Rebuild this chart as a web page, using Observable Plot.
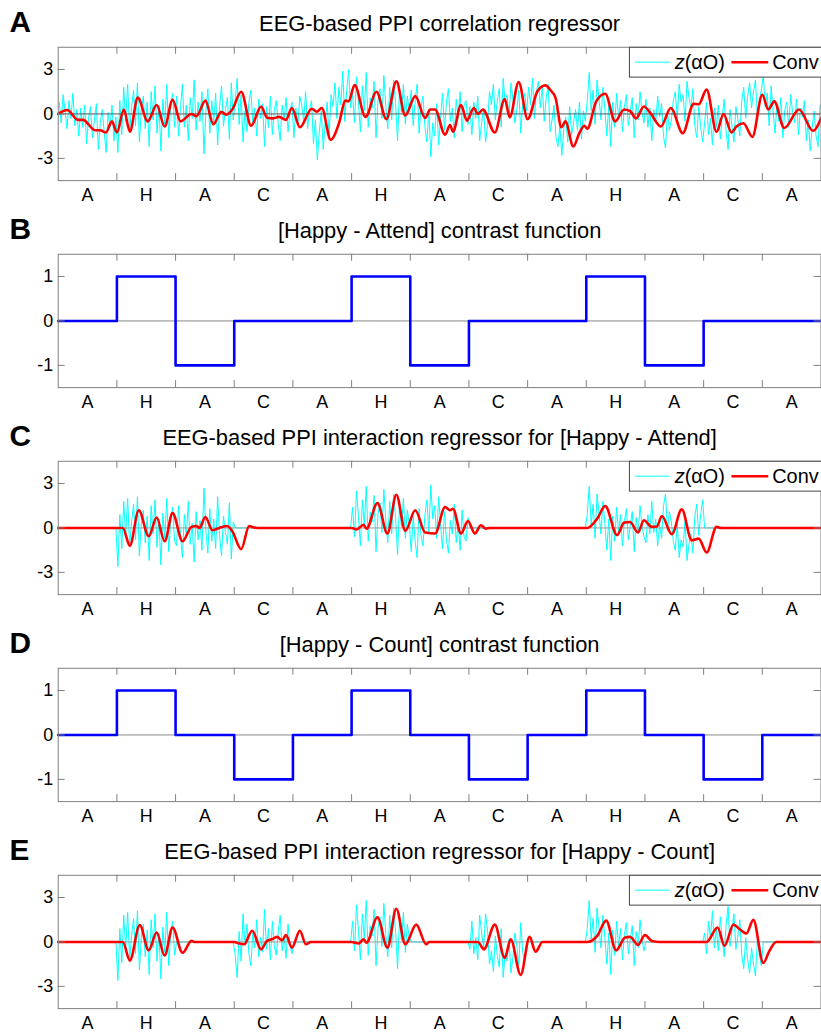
<!DOCTYPE html>
<html><head><meta charset="utf-8">
<script src="https://cdn.jsdelivr.net/npm/d3@7"></script>
<script src="https://cdn.jsdelivr.net/npm/@observablehq/plot@0.6"></script>
<style>
body{margin:0;background:#fff;overflow:hidden;}
#fig{width:821px;height:1036px;overflow:hidden;position:relative;background:#fff;}
#fig svg{display:block;overflow:visible;}
</style></head><body><div id="fig"></div>
<script>
// ---------- data ----------
const blockLabels = ["A","H","A","C","A","H","A","C","A","H","A","C","A"];
const blockLen = 59;            // time units per block
const samplesPerBlock = 30;     // z(alphaO) samples per block
const contrastHappyAttend = [0,1,-1,0,0,1,-1,0,0,1,-1,0,0];
const contrastHappyCount  = [0,1,0,-1,0,1,0,-1,0,1,0,-1,0];
const yTicksEEG = ["3","0","-3"];
const yTicksContrast = ["1","0","-1"];

// z(alphaO): EEG alpha power time course
const zAlphaO = [
  0.8,-0.6,1.3,0.2,-1.0,0.9,-0.3,1.4,-0.8,0.3,-1.5,0.4,-0.9,0.6,-2.0,-0.3,0.5,-1.6,-0.4,0.7,-2.4,-0.6,0.3,-1.2,-2.6,0.1,-0.9,0.6,-1.8,-0.2,
  -2.6,0.9,-1.4,1.8,-0.5,2.0,-1.2,0.4,1.6,-0.8,2.1,-1.9,0.3,1.2,-1.0,0.8,-2.2,1.5,-0.4,1.9,-1.3,0.6,-2.5,1.0,-0.7,2.0,-1.6,0.5,1.4,-0.9,
  1.2,-1.5,0.4,2.0,-0.9,0.6,-1.8,1.1,-0.3,2.3,-1.1,0.8,-0.5,1.5,-2.7,0.2,1.7,-1.3,0.9,-0.6,1.4,-2.1,0.5,1.9,-0.8,0.3,1.1,-1.7,2.1,-0.4,
  0.9,2.4,-0.7,1.3,-1.9,0.2,-1.2,0.8,1.6,-0.6,0.4,-1.5,1.0,-0.3,0.7,-2.2,0.5,-0.9,1.2,-1.4,0.3,0.9,-0.7,-1.8,0.6,-0.4,1.1,-1.2,0.2,0.8,
  -1.6,0.4,-0.8,1.2,0.6,-0.5,1.5,-1.0,0.3,0.9,-2.0,-0.4,-3.1,-1.2,0.2,-2.4,-0.6,0.8,-1.5,1.3,0.5,2.1,-0.3,1.8,0.6,2.9,-0.5,1.6,3.0,0.4,
  1.4,-0.6,2.5,0.8,-1.2,1.9,0.2,2.8,-0.9,1.1,0.4,2.2,-1.6,0.9,1.7,-0.3,2.6,0.5,-1.0,1.8,-0.4,2.3,0.7,-1.8,1.5,0.1,2.0,-0.7,1.2,0.3,
  1.6,-0.8,0.9,2.0,-1.3,0.5,1.2,-0.9,-1.9,0.3,-2.9,-0.6,-1.5,0.7,-2.1,-0.2,1.4,-1.1,0.8,1.7,-0.5,0.4,-1.6,1.0,-0.3,1.5,-1.2,0.6,0.9,-0.7,
  0.5,-1.4,0.8,-0.3,1.2,-1.8,-0.6,0.4,-1.9,-0.8,1.5,0.6,2.0,-0.4,0.9,1.7,-0.9,2.4,0.8,1.3,-0.2,2.1,1.0,-0.6,0.3,1.6,-1.3,0.7,1.4,0.2,
  1.8,0.6,2.4,-0.3,1.5,2.2,0.4,1.9,-0.5,1.1,2.0,-1.2,-0.4,0.6,-1.6,-2.2,-0.8,-2.8,-1.0,-0.2,-1.9,0.5,-1.4,-0.6,0.3,-1.1,0.8,-1.7,0.2,-0.5,
  0.9,2.8,0.2,1.6,-0.7,2.3,1.0,-0.4,1.8,0.3,-1.5,0.6,-2.2,0.8,-0.9,1.4,-0.3,0.9,-1.2,0.5,1.3,-0.8,0.2,1.1,-1.6,0.7,-0.4,1.5,0.1,-0.6,
  1.0,-0.9,0.4,-1.8,0.3,-0.6,1.2,-0.2,0.7,-1.5,-2.3,0.2,-1.1,-0.4,0.9,1.5,-0.3,2.0,0.8,1.3,-0.5,2.2,1.1,0.4,1.7,-0.8,-1.6,0.5,-0.9,-1.9,
  -0.6,0.8,-1.4,-0.3,-2.1,0.4,-0.9,0.6,-1.7,-0.2,1.0,-1.2,-2.4,0.3,-0.8,-1.9,0.5,-0.4,-1.5,0.9,1.8,-0.3,1.2,2.1,0.4,1.5,2.3,-0.2,0.9,1.6,
  2.6,0.5,1.4,-0.8,1.9,0.2,-1.3,0.7,-0.5,1.1,-1.6,0.3,0.8,-0.9,1.3,0.1,-0.6,1.0,-1.4,0.4,-0.2,0.9,-1.8,-0.4,-2.5,-0.9,0.2,-1.5,-2.2,0.6
];

// HRF-convolved regressors (knots at turning points)
const convA_t = [0,9,20,25,37,42,48,54,59,66,72,80,90,99,107,115,123,134,139,148,156,164,169,175,184,194,204,210,216,222,229,235,243,255,260,265,274,282,289,292,298,309,320,330,340,349,359,369,374,379,389,394,397,405,411,418,422,427,439,449,454,463,472,482,490,495,500,506,510,518,524,529,532,541,550,560,569,575,581,589,595,606,616,628,639,644,652,662,669,677,682,689,698,708,714,720,730,745,759,767];
const convA_v = [0,0.27,-0.4,-0.4,-1.1,-1.1,-1.25,-0.5,-1.25,0.3,-1.2,1.1,-0.5,0.6,-0.85,0.95,-0.5,0,-0.15,0.9,-0.7,0.15,-0.05,0.3,1.5,-0.8,0.5,-0.25,-0.3,-0.2,-0.4,0.4,-0.9,0.35,0.15,0.4,-1.75,-0.7,0.9,0.85,1.95,-0.2,1.5,-0.35,2.2,-0.1,1.2,-0.27,0.3,0.3,-1.4,-0.75,-1.2,0.6,-0.45,0.4,0,0.3,-1.25,1.0,-0.23,2.15,-0.35,1.55,1.93,1.6,1.1,-0.9,-0.5,-2.2,-1.3,-0.8,-1.0,0.85,1.36,-0.5,0.3,0.2,-0.3,0.5,0.1,-0.85,0.4,-1.3,0.68,0.65,1.64,-1.2,0,-1.25,-0.85,-0.63,-1.55,1.3,0.3,0.85,-0.95,0.3,-1.14,-0.3];

const convC_t = [0,65,72,81,91,99,107,115,125,134,139,142,148,155,162,170,175,184,192,195,200,295,300,307,310,321,331,340,349,359,369,379,389,394,397,405,412,419,425,430,434,532,542,550,562,569,575,583,589,597,602,607,617,627,637,644,652,662,667,767];
const convC_v = [0,0,-1.2,1.19,-0.56,0.7,-0.9,1.0,-0.9,0.07,0.13,0,0.74,-0.16,0,0.13,-0.22,-1.43,0.13,0.07,0,0,-0.1,0.22,-0.05,1.68,-0.38,2.24,-0.2,1.19,-0.31,-0.38,1.41,1.19,1.3,-0.38,0.47,-0.38,0.18,-0.05,0,0,0.63,1.48,-0.49,0.36,0.4,-0.31,0.52,0.07,0.1,0.81,-0.43,1.26,-0.83,-0.72,-1.66,0.07,0,0];

const convE_t = [0,65,72,82,91,99,107,115,125,134,137,177,182,187,195,204,210,215,220,225,229,235,243,249,254,295,302,307,310,321,331,340,349,360,370,373,422,428,439,449,455,465,474,480,487,532,542,551,561,570,575,583,590,597,605,652,663,670,679,685,692,699,709,715,722,767];
const convE_v = [0,0,-1.26,1.14,-0.57,0.64,-0.92,0.98,-0.73,0.07,0,0,-0.11,-0.16,0.76,-0.5,0.07,0.18,0.34,0.11,0.46,-0.39,0.76,-0.16,0,0,-0.1,0.18,-0.05,1.67,-0.39,2.24,-0.16,1.17,-0.16,0,0,-0.5,1.17,-1.08,0.18,-2.22,0.34,-0.66,0,0,0.41,1.44,-0.57,0.3,0.34,-0.2,0.46,0.07,0,0,0.98,-0.27,1.17,0.87,0.57,1.49,-1.42,-0.62,0,0];

// ---------- derived tables ----------
const nBlocks = blockLabels.length;
const tEnd = nBlocks * blockLen;
const step = blockLen / samplesPerBlock;
const noise = zAlphaO.map((v, i) => ({t: (i + 0.5) * step, v}));
const contrastAt = (c, t) => c[Math.min(nBlocks - 1, Math.floor(t / blockLen))];
const interaction = c => noise.map(d => ({t: d.t, v: d.v * contrastAt(c, d.t)}));
const steps = c => c.map((v, i) => ({t: i * blockLen, v})).concat([{t: tEnd, v: c[nBlocks - 1]}]);
const conv = (ts, vs) => ts.map((t, i) => ({t, v: vs[i]}));

// ---------- drawing ----------
const FONT = "'Liberation Sans', Arial, Helvetica, sans-serif";
const GRAY = "#7f7f7f";
const fig = document.getElementById("fig");

function panel({letter, title, yDomain, yTicks, marks, legend, zeroColor}) {
  const W = 825, H = 208, mL = 58, mR = 0.5, mT = 47, mB = 27;
  const tickLenY = 7 * (yDomain[1] - yDomain[0]) / (H - mT - mB);
  const tickLenX = 7 * tEnd / (W - mL - mR);
  const bounds = d3.range(1, nBlocks).map(i => i * blockLen);
  const centers = blockLabels.map((label, i) => ({t: (i + 0.5) * blockLen, label}));
  const yt = yTicks.map(Number);
  const svg = Plot.plot({
    width: W, height: H, marginLeft: mL, marginRight: mR, marginTop: mT, marginBottom: mB,
    x: {domain: [0, tEnd], axis: null},
    y: {domain: yDomain, axis: null},
    style: {fontFamily: FONT, overflow: "visible", background: "transparent"},
    marks: [
      ...marks.under,
      Plot.ruleY([0], {stroke: zeroColor, strokeWidth: 1}),
      ...marks.over,
      Plot.ruleX(bounds, {y1: yDomain[0], y2: yDomain[0] + tickLenY, stroke: GRAY}),
      Plot.ruleX(bounds, {y1: yDomain[1], y2: yDomain[1] - tickLenY, stroke: GRAY}),
      Plot.ruleY(yt, {x1: 0, x2: tickLenX, stroke: GRAY}),
      Plot.ruleY(yt, {x1: tEnd, x2: tEnd - tickLenX, stroke: GRAY}),
      Plot.frame({stroke: GRAY}),
      Plot.text(yTicks, {x: 0, y: d => +d, text: d => d, textAnchor: "end", dx: -5, fontSize: 18, fill: "#000"}),
      Plot.text(centers, {x: "t", y: yDomain[0], text: "label", lineAnchor: "bottom", dy: 20.5, fontSize: 18, fill: "#000"}),
      Plot.text([title], {frameAnchor: "top", text: d => d, lineAnchor: "bottom", dy: -16, fontSize: 22, fill: "#000"}),
      Plot.text([letter], {frameAnchor: "top-left", text: d => d, textAnchor: "start", lineAnchor: "bottom", dx: -49, dy: -15, fontSize: 30, fontWeight: "bold", fill: "#000"})
    ]
  });
  if (legend) {
    const g = d3.select(svg).append("g").attr("font-family", FONT).attr("font-size", 20).attr("text-anchor", "start");
    g.append("rect").attr("x", 632.5).attr("y", mT + 0.5).attr("width", 200).attr("height", 30)
      .attr("fill", "#fff").attr("stroke", "#444").attr("stroke-width", 1);
    g.append("line").attr("x1", 638).attr("x2", 673).attr("y1", mT + 15.5).attr("y2", mT + 15.5)
      .attr("stroke", "#00ffff").attr("stroke-width", 1);
    const t1 = g.append("text").attr("x", 678).attr("y", mT + 22).attr("text-anchor", "start").attr("fill", "#000");
    t1.append("tspan").attr("font-style", "italic").text("z");
    t1.append("tspan").text("(αO)");
    g.append("line").attr("x1", 735).attr("x2", 772).attr("y1", mT + 15.5).attr("y2", mT + 15.5)
      .attr("stroke", "#ff0000").attr("stroke-width", 2.6);
    g.append("text").attr("x", 776).attr("y", mT + 22).attr("text-anchor", "start").attr("fill", "#000").text("Conv");
  }
  fig.appendChild(svg);
}

const cyanLine = data => Plot.line(data, {x: "t", y: "v", stroke: "#00ffff", strokeWidth: 1});
const redLine = data => Plot.line(data, {x: "t", y: "v", stroke: "#ff0000", strokeWidth: 2.6, curve: "monotone-x"});
const blueStep = data => Plot.line(data, {x: "t", y: "v", stroke: "#0000ff", strokeWidth: 2.6, curve: "step-after"});

panel({letter: "A", title: "EEG-based PPI correlation regressor", yDomain: [-4.5, 4.5], yTicks: yTicksEEG,
  zeroColor: "#555", legend: true,
  marks: {under: [cyanLine(noise)], over: [redLine(conv(convA_t, convA_v))]}});
panel({letter: "B", title: "[Happy - Attend] contrast function", yDomain: [-1.5, 1.5], yTicks: yTicksContrast,
  zeroColor: "#888", legend: false,
  marks: {under: [], over: [blueStep(steps(contrastHappyAttend))]}});
panel({letter: "C", title: "EEG-based PPI interaction regressor for [Happy - Attend]", yDomain: [-4.5, 4.5], yTicks: yTicksEEG,
  zeroColor: "#999", legend: true,
  marks: {under: [cyanLine(interaction(contrastHappyAttend))], over: [redLine(conv(convC_t, convC_v))]}});
panel({letter: "D", title: "[Happy - Count] contrast function", yDomain: [-1.5, 1.5], yTicks: yTicksContrast,
  zeroColor: "#888", legend: false,
  marks: {under: [], over: [blueStep(steps(contrastHappyCount))]}});
panel({letter: "E", title: "EEG-based PPI interaction regressor for [Happy - Count]", yDomain: [-4.5, 4.5], yTicks: yTicksEEG,
  zeroColor: "#999", legend: true,
  marks: {under: [cyanLine(interaction(contrastHappyCount))], over: [redLine(conv(convE_t, convE_v))]}});
</script></body></html>
